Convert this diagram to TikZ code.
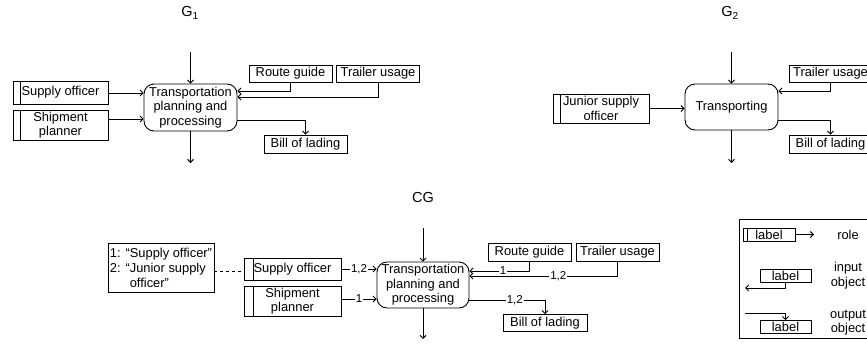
\documentclass[tikz,border=0pt]{standalone}
\usepackage{fontspec}
\setmainfont{Liberation Sans}
\usetikzlibrary{arrows.meta}
\begin{document}
\begin{tikzpicture}[x=1pt,y=-1pt,
  every node/.style={font=\fontsize{12.9}{14.5}\selectfont, inner sep=0pt},
  ln/.style={line width=0.9pt},
  arr/.style={ln,-{Straight Barb[length=3pt,width=6pt]}},
  title/.style={font=\fontsize{14.5}{16}\selectfont},
  proc/.style={draw, ln, rounded corners=10pt, minimum width=93pt, minimum height=47pt, align=center},
  obj/.style={draw, ln, minimum width=83pt, minimum height=17pt},
  role/.style={draw, ln, align=center,
    path picture={\draw[ln] ([xshift=#1]path picture bounding box.north west)
                         -- ([xshift=#1]path picture bounding box.south west);}},
  role/.default=7pt,
  lab/.style={fill=white, inner sep=1pt, font=\fontsize{11.5}{12}\selectfont}]
\useasboundingbox (0,0) rectangle (867,343);

% ---------------- G1 ----------------
\node[title] (g1) at (190,13) {G\textsubscript{1}};
\node[proc] (proc1) at (190.5,107.5) {Transportation\\planning and\\processing};
\node[role, minimum width=95pt, minimum height=23pt] (sup1) at (60.5,92.5) {Supply officer};
\node[role, minimum width=95pt, minimum height=30pt] (ship1) at (60.5,125) {Shipment\\planner};
\node[obj] (route1) at (290.5,73.5) {Route guide};
\node[obj] (trail1) at (378,73.5) {Trailer usage};
\node[obj, minimum height=18pt] (bill1) at (305.5,144) {Bill of lading};
\coordinate (t1) at (190.5,52);
\coordinate (b1) at (190.5,163);
\draw[arr] (t1) -- (proc1.north);
\draw[arr] (proc1.south) -- (b1);
\draw[arr] (sup1.east |- 0,93) -- (proc1.west |- 0,93);
\draw[arr] (ship1.east |- 0,119) -- (proc1.west |- 0,119);
\draw[arr] (route1.south) |- (proc1.east |- 0,91);
\draw[arr] (trail1.south) |- (proc1.east |- 0,97);
\draw[arr] (proc1.east |- 0,120) -| (bill1.north);

% ---------------- G2 ----------------
\node[title] (g2) at (730,13) {G\textsubscript{2}};
\node[proc, minimum height=46pt] (proc2) at (731.5,107) {Transporting};
\node[role, minimum width=96pt, minimum height=29pt] (jun2) at (601,108.5) {Junior supply\\officer};
\node[obj] (trail2) at (830.5,73.5) {Trailer usage};
\node[obj, minimum height=18pt] (bill2) at (830.5,144) {Bill of lading};
\coordinate (t2) at (731.5,52);
\coordinate (b2) at (731.5,163);
\draw[arr] (t2) -- (proc2.north);
\draw[arr] (proc2.south) -- (b2);
\draw[arr] (jun2.east) -- (jun2.east -| proc2.west);
\draw[arr] (trail2.south) |- (proc2.east |- 0,91);
\draw[arr] (proc2.east |- 0,120) -| (bill2.north);

% ---------------- CG ----------------
\node[title] (cg) at (423,198) {CG};
\node[proc, minimum width=92pt, minimum height=46pt] (procC) at (423,285) {Transportation\\planning and\\processing};
\node[draw, ln, minimum width=106pt, minimum height=49pt, align=left,
      font=\fontsize{12.9}{15}\selectfont] (note) at (161,267.5)
  {1: “Supply officer”\\2: “Junior supply\\\phantom{2: “}officer”};
\node[role, minimum width=97pt, minimum height=22pt, role=9pt] (supC) at (292.5,269) {Supply officer};
\node[role, minimum width=97pt, minimum height=30pt, role=9pt] (shipC) at (292.5,301) {Shipment\\planner};
\node[obj, minimum height=18pt] (routeC) at (529.5,252) {Route guide};
\node[obj, minimum height=18pt] (trailC) at (617.5,252) {Trailer usage};
\node[obj, minimum width=84pt, minimum height=17pt] (billC) at (545,323) {Bill of lading};
\coordinate (tC) at (423,228);
\coordinate (bC) at (423,339);
\draw[arr] (tC) -- (procC.north);
\draw[arr] (procC.south) -- (bC);
\draw[ln, dashed] (note.east |- 0,271) -- (supC.west |- 0,271);
\draw[arr] (supC.east) -- node[lab] {1,2} (supC.east -| procC.west);
\draw[arr] (shipC.east |- 0,299) -- node[lab] {1} (procC.west |- 0,299);
\draw[arr] (routeC.south) |- node[lab, pos=0.72] {1} (procC.east |- 0,271);
\draw[arr] (trailC.south) |- node[lab, pos=0.7] {1,2} (procC.east |- 0,276);
\draw[arr] (procC.east |- 0,300) -| node[lab, pos=0.3] {1,2} (billC.north);

% ---------------- legend ----------------
\draw[ln] (739,219) rectangle (890,338);
\node[role=4pt, minimum width=52pt, minimum height=13pt] (lrole) at (769,234.5) {label};
\coordinate (lroleend) at (814,234.5);
\draw[arr] (lrole.east) -- (lroleend);
\node (troles) at (848,235) {role};
\node[draw, ln, minimum width=51pt, minimum height=13pt] (linbox) at (785.5,276) {label};
\coordinate (linend) at (745,288);
\draw[arr] (linbox.south) |- (linend);
\node[align=center] (tin) at (848,275.5) {input\\object};
\node[draw, ln, minimum width=51pt, minimum height=13pt] (loutbox) at (785.5,327) {label};
\coordinate (loutstart) at (745,313);
\draw[arr] (loutstart) -| (loutbox.north);
\node[align=center] (tout) at (848,322.5) {output\\object};
\end{tikzpicture}
\end{document}
